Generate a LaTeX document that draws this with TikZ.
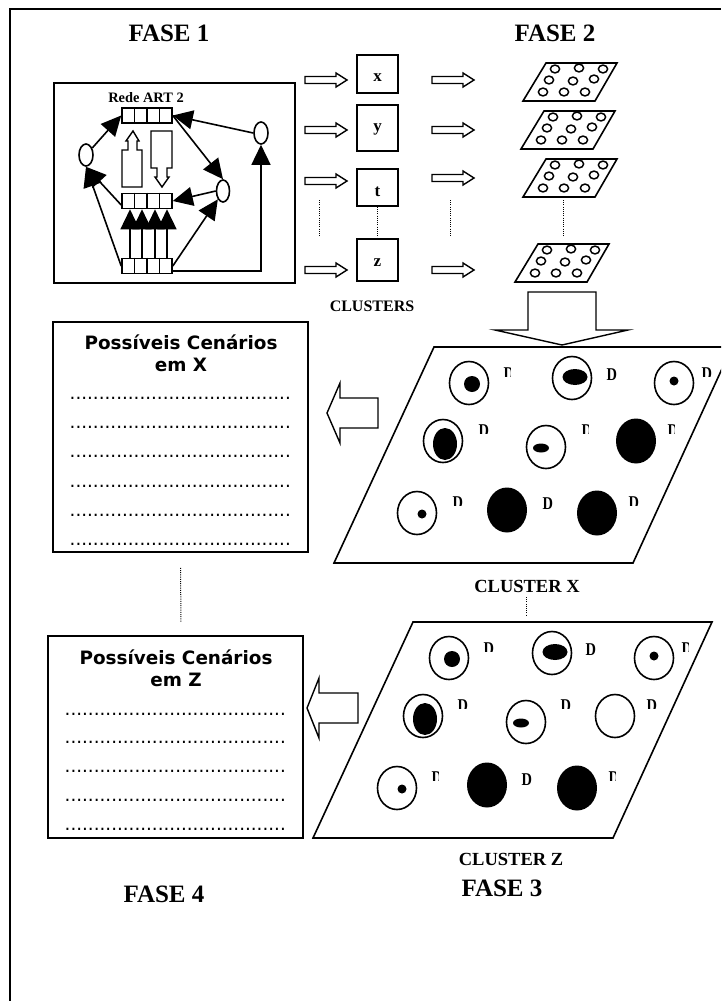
\documentclass[tikz,border=0pt]{standalone}
\usepackage{fontspec}
\setmainfont{Liberation Serif}
\newfontfamily\vfont{DejaVu Sans}
\usetikzlibrary{arrows.meta,shapes.geometric,calc}
\newcommand{\fsz}[1]{\fontsize{#1}{#1}\selectfont}
\newcommand{\dotrow}{......................................}
\tikzset{
  ln/.style={line width=1.6pt,line join=miter},
  dots/.style={line width=1pt,dash pattern=on 1pt off 1.2pt},
  bigtip/.style={ln,-{Triangle[length=20pt,width=19pt]}},
  rowbox/.style={draw,ln,minimum width=50pt,minimum height=15pt,inner sep=0pt},
  nodeell/.style={draw,ln,ellipse,fill=white,inner sep=0pt,minimum width=14pt,minimum height=22pt},
  clusterbox/.style={draw,ln,inner sep=0pt},
  cl/.style={font=\bfseries\fsz{17},inner sep=0pt},
  fase/.style={font=\bfseries\fsz{25},inner sep=0pt},
  caption/.style={font=\bfseries\fsz{16},inner sep=0pt},
  scen/.style={font=\vfont\bfseries\fsz{18.4},inner sep=0pt},
  dotline/.style={font=\vfont\fsz{18.3},inner sep=0pt,anchor=base west},
  lab/.style={font=\bfseries\fsz{18},inner sep=0pt,anchor=base west},
  hollow/.style={draw,line width=1.4pt,fill=white,line join=miter},
}
% small hollow arrow to the right
\newcommand{\harrow}[2]{\path[hollow] (#1,#2-3.5) -- ++(31,0) -- ++(0,-3.5) -- (#1+42,#2) -- (#1+31,#2+7) -- ++(0,-3.5) -- (#1,#2+3.5) -- cycle;}
% small plate of nine circles
\newcommand{\plate}[2]{%
  \begin{scope}[shift={(#1,#2)}]
    \draw[ln] (0,0) -- (71,0) -- (49,38) -- (-23,38) -- cycle;
    \foreach \cx/\cy in {9/6,33/5,57/6,3/17,27/18,48/16,-3/29,18/29,39/29}
      \draw[line width=1.5pt] (\cx,\cy) ellipse [x radius=4.6,y radius=3.9];
  \end{scope}}
% scenario ring with inner blot
\newcommand{\ring}[7]{\draw[ln,fill=white] (#1,#2) ellipse [x radius=19.5,y radius=21.5];
  \fill (#1+#3,#2+#4) ellipse [x radius=#5,y radius=#6];}
\newcommand{\solid}[2]{\fill (#1,#2) ellipse [x radius=20,y radius=22.5];}
% labels: narrowed D, whole or cut off as the reference prints them
\newcommand{\lD}[3]{\node[lab] (#1) at (#2-4.5,#3+6) {\scalebox{.8}[1]{D}};}
\newcommand{\lR}[3]{\begin{scope}\clip (#2-3.5,#3-5) rectangle (#2+3,#3+4.6);\node[lab] (#1) at (#2-3.5,#3+7.5) {\scalebox{.8}[1]{D}};\end{scope}}
\newcommand{\lN}[3]{\begin{scope}\clip (#2-4.5,#3-5) rectangle (#2+5.5,#3+4.6);\node[lab] (#1) at (#2-4.5,#3+7.5) {\scalebox{.8}[1]{D}};\end{scope}}
\begin{document}
\begin{tikzpicture}[x=1pt,y=-1pt]
\useasboundingbox (0,0) rectangle (721,1001);
\clip (0,0) rectangle (721,1001);
% page frame
\draw[line width=1.6pt] (10,1001) -- (10,9) -- (721,9);
% titles
\node[fase] (f1) at (169,33) {FASE 1};
\node[fase] (f2) at (555,33) {FASE 2};
\node[fase] (f3) at (502,888) {FASE 3};
\node[fase] (f4) at (164,894) {FASE 4};
% ART box
\node[draw,ln,minimum width=241pt,minimum height=200pt,inner sep=0pt] (art) at (174.5,183) {};
\node[font=\bfseries\fsz{14.4},inner sep=0pt] (arttitle) at (146,98) {Rede ART 2};
\node[rowbox] (toprow) at (147,115.5) {};
\node[rowbox] (midrow) at (147,201) {};
\node[rowbox] (botrow) at (147,266) {};
\foreach \r in {toprow,midrow,botrow}\foreach \d in {-12.5,0,12.5}
  \draw[ln] ([xshift=\d pt]\r.north) -- ([xshift=\d pt]\r.south);
\node[nodeell] (c1) at (86,155) {};
\node[nodeell] (c2) at (261,133) {};
\node[nodeell,minimum width=13pt] (c3) at (223,191) {};
\path[hollow] (122,187) -- (122,150) -- (128,150) -- (128,141) -- (126,141) -- (133,131) -- (139,141) -- (137,141) -- (137,150) -- (142,150) -- (142,187) -- cycle;
\path[hollow] (151,131) -- (172,131) -- (172,168) -- (167,168) -- (167,177) -- (169,177) -- (162,187) -- (155,177) -- (157,177) -- (157,168) -- (151,168) -- cycle;
\draw[bigtip] (c1) -- (toprow.west);
\draw[bigtip] (c2.west) -- (toprow.east);
\draw[bigtip] (toprow.east) -- (c3.north);
\draw[bigtip] (c3.west) -- (midrow.east);
\draw[bigtip] (botrow.east) -- (c3.south west);
\draw[bigtip] ([yshift=-5pt]botrow.east) -| (c2.south);
\draw[bigtip] ([yshift=-4pt]midrow.west) -- (c1.south);
\draw[bigtip] (botrow.west) -- (c1.south);
\foreach \d in {-17,-5,8,20}
  \draw[bigtip] ([xshift=\d pt]botrow.north) -- ([xshift=\d pt]midrow.south);
% cluster boxes
\node[clusterbox,minimum width=41pt,minimum height=38pt] (bx) at (377.5,74) {};
\node[clusterbox,minimum width=41pt,minimum height=46pt] (by) at (377.5,128) {};
\node[clusterbox,minimum width=41pt,minimum height=37pt] (bt) at (377.5,187.5) {};
\node[clusterbox,minimum width=41pt,minimum height=42pt] (bz) at (377.5,260) {};
\node[cl] (lx) at (377.5,77.5) {x};
\node[cl] (ly) at (377.5,129) {y};
\node[cl] (lt) at (377.5,191.5) {t};
\node[cl] (lz) at (377.5,263) {z};
\draw[dots] (bt) -- (bz);
\foreach \yy in {80,130,181,270} {\harrow{305}{\yy}}
\foreach \yy in {80,130,178,270} {\harrow{432}{\yy}}
\coordinate (d1a) at (319,200); \coordinate (d1b) at (319,237);
\coordinate (d2a) at (450,200); \coordinate (d2b) at (450,237);
\coordinate (d3a) at (563,200); \coordinate (d3b) at (563,237);
\draw[dots] (d1a) -- (d1b);
\draw[dots] (d2a) -- (d2b);
\draw[dots] (d3a) -- (d3b);
\node[caption] (clusters) at (372,306) {CLUSTERS};
% plates
\plate{546}{63}
\plate{544}{111}
\plate{546}{159}
\plate{538}{244}
% big down arrow
\path[hollow] (528,292) -- (596,292) -- (596,330) -- (628,330) -- (562,345) -- (495,330) -- (528,330) -- cycle;
% cluster X
\draw[ln] (434,347) -- (732,347) -- (633,563) -- (334,563) -- cycle;
\ring{469}{383}{3}{1}{8}{8}{}
\ring{572}{378}{3}{-1}{12.5}{8}{}
\ring{674}{383}{0}{-2}{4.5}{4.5}{}
\ring{443}{441}{2}{3}{12}{16}{}
\ring{546}{447}{-5}{1}{8}{4.5}{}
\solid{636}{441}
\ring{417}{513}{5}{1}{4.5}{4.5}{}
\solid{507}{510}
\solid{597}{513}
\lR{a1}{507}{372}
\lD{a2}{611}{374}
\lN{a3}{706}{372}
\lN{a4}{483}{429}
\lR{a5}{585}{429}
\lR{a6}{671}{429}
\lN{a7}{457}{501}
\lD{a8}{547}{503}
\lN{a9}{633}{501}
\node[font=\bfseries\fsz{18.5},inner sep=0pt] (clx) at (527,586) {CLUSTER X};
\coordinate (d4a) at (526,597); \coordinate (d4b) at (526,616);
\draw[dots] (d4a) -- (d4b);
% cluster Z
\draw[ln] (413,622) -- (712,622) -- (613,838) -- (313,838) -- cycle;
\ring{449}{658}{3}{1}{8}{8}{}
\ring{552}{653}{3}{-1}{12.5}{8}{}
\ring{654}{658}{0}{-2}{4.5}{4.5}{}
\ring{423}{716}{2}{3}{12}{16}{}
\ring{526}{722}{-5}{1}{8}{4.5}{}
\draw[ln] (615,716) ellipse [x radius=19.5,y radius=21.5];
\ring{397}{788}{5}{1}{4.5}{4.5}{}
\solid{487}{785}
\solid{577}{788}
\lN{b1}{488}{647}
\lD{b2}{590}{649}
\lR{b3}{685}{647}
\lN{b4}{462}{704}
\lN{b5}{565}{704}
\lN{b6}{651}{704}
\lR{b7}{435}{776}
\lD{b8}{526}{779}
\lR{b9}{612}{776}
\node[font=\bfseries\fsz{18.5},inner sep=0pt] (clz) at (511,859) {CLUSTER Z};
% scenario box X
\node[draw,ln,minimum width=255pt,minimum height=230pt,inner sep=0pt] (sx) at (180.5,437) {};
\node[scen] (sx1) at (181,342) {Possíveis Cenários};
\node[scen] (sx2) at (181,365) {em X};
\foreach \i/\yy in {1/396,2/425,3/454,4/484,5/513,6/541.5}
  \node[dotline] (dx\i) at (69.5,\yy+3.5) {\dotrow};
\path[hollow] (378,398) -- (340,398) -- (340,383) -- (327,413) -- (340,443) -- (340,428) -- (378,428) -- cycle;
% scenario box Z
\node[draw,ln,minimum width=255pt,minimum height=202pt,inner sep=0pt] (sz) at (175.5,737) {};
\node[scen] (sz1) at (176,657) {Possíveis Cenários};
\node[scen] (sz2) at (176,680) {em Z};
\foreach \i/\yy in {1/712,2/740,3/769,4/798,5/827}
  \node[dotline] (dz\i) at (64.5,\yy+3.5) {\dotrow};
\path[hollow] (358,693) -- (319,693) -- (319,678) -- (307,708) -- (319,738) -- (319,723) -- (358,723) -- cycle;
\draw[dots] (sx.south) ++(0,15) coordinate (d5a) -- (181,622) coordinate (d5b);
\end{tikzpicture}
\end{document}
